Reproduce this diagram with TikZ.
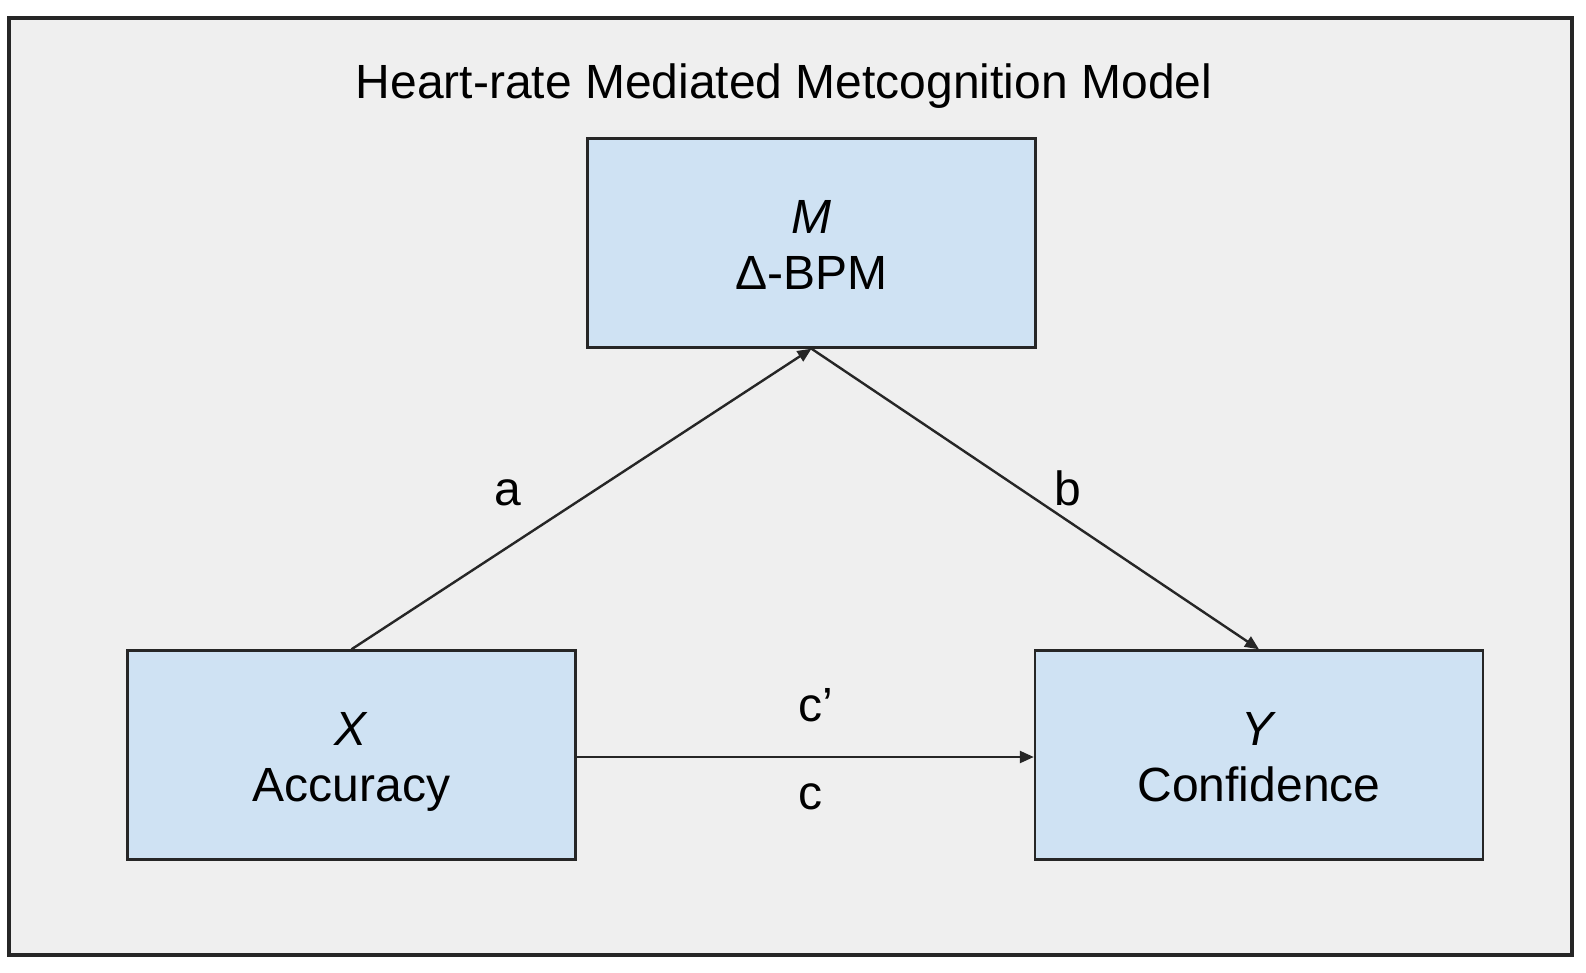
\documentclass[tikz,border=0pt]{standalone}
\usepackage{fontspec}
\setmainfont{Liberation Sans}
\usetikzlibrary{arrows.meta}
\definecolor{bggray}{HTML}{EFEFEF}
\definecolor{boxblue}{HTML}{CFE2F3}
\definecolor{linedark}{HTML}{262626}
\tikzset{
  varbox/.style={draw=linedark, line width=2.4pt, fill=boxblue, minimum width=448pt,
    minimum height=209pt, inner sep=0pt, align=center, text height=92pt, text depth=0pt,
    font=\fontsize{48}{56}\selectfont},
  lbl/.style={font=\fontsize{48}{56}\selectfont, anchor=base, inner sep=0pt},
  conn/.style={draw=linedark, line width=2.4pt, -{Triangle[length=14pt,width=12pt]}}
}
\begin{document}
\begin{tikzpicture}[x=1pt,y=-1pt]
\useasboundingbox (0,0) rectangle (1586,972);
\fill[white] (0,0) rectangle (1586,972);
\draw[draw=linedark, line width=3.5pt, fill=bggray] (9,18) rectangle (1572,955);
\node[lbl] (title) at (784,98) {Heart-rate Mediated Metcognition Model};
\node[varbox] (M) at (811.5,243) {\textit{M}\\Δ-BPM};
\node[varbox] (X) at (351.5,755) {\textit{X}\\Accuracy};
\node[varbox] (Y) at (1259,755) {\textit{Y}\\Confidence};
\draw[conn] (X.north) -- (M.south);
\draw[conn] (M.south) -- (Y.north);
\draw[conn] ([yshift=-2pt]X.east) -- ([yshift=-2pt]Y.west);
\node[lbl] (la) at (508,505) {a};
\node[lbl] (lb) at (1068,505) {b};
\node[lbl] (lcp) at (816,721) {c'};
\node[lbl] (lc) at (810.5,809) {c};
\end{tikzpicture}
\end{document}
